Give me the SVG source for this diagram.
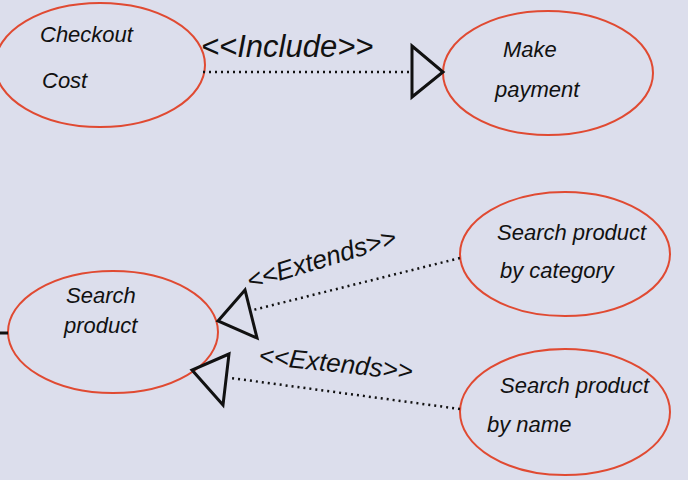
<svg xmlns="http://www.w3.org/2000/svg" width="688" height="480" viewBox="0 0 688 480">
<style>
.uc{fill:none;stroke:#e04a32;stroke-width:2}
.lbl{font-family:"Liberation Sans",Arial,sans-serif;font-style:italic;font-size:22px;fill:#111}
.st{font-family:"Liberation Sans",Arial,sans-serif;font-style:italic;font-size:26px;fill:#111}
.dot{fill:none;stroke:#111;stroke-width:2.5;stroke-dasharray:2 4}
.tri{fill:none;stroke:#111;stroke-width:3;stroke-linejoin:miter}
</style>
<rect width="688" height="480" fill="#dcdeec"/>
<g id="checkout-cost">
<ellipse class="uc" cx="100" cy="65" rx="105" ry="62"/>
<text class="lbl" x="40" y="42">Checkout</text>
<text class="lbl" x="42" y="88">Cost</text>
</g>
<g id="make-payment">
<ellipse class="uc" cx="548" cy="73" rx="105" ry="62"/>
<text class="lbl" x="503" y="57">Make</text>
<text class="lbl" x="495" y="97">payment</text>
</g>
<g id="search-product">
<ellipse class="uc" cx="113" cy="332" rx="105" ry="61"/>
<text class="lbl" x="66" y="303">Search</text>
<text class="lbl" x="64" y="333">product</text>
</g>
<g id="search-by-category">
<ellipse class="uc" cx="565" cy="254" rx="105" ry="62"/>
<text class="lbl" x="497" y="240">Search product</text>
<text class="lbl" x="500" y="278">by category</text>
</g>
<g id="search-by-name">
<ellipse class="uc" cx="565" cy="412" rx="105" ry="63"/>
<text class="lbl" x="500" y="393">Search product</text>
<text class="lbl" x="487" y="432">by name</text>
</g>
<g id="connectors">
<line x1="0" y1="333" x2="8" y2="333" stroke="#111" stroke-width="3"/>
<line class="dot" x1="203" y1="72" x2="410" y2="72"/>
<polygon class="tri" points="412,46 443,72 412,97"/>
<text class="st" x="201" y="57" style="font-size:31px">&lt;&lt;Include&gt;&gt;</text>
<line class="dot" x1="460" y1="258" x2="253" y2="310"/>
<polygon class="tri" points="245,290 218,321 257,338"/>
<text class="st" transform="translate(250,290) rotate(-17)">&lt;&lt;Extends&gt;&gt;</text>
<line class="dot" x1="460" y1="409" x2="231" y2="378"/>
<polygon class="tri" points="229,354 192,370 223,405"/>
<text class="st" transform="translate(258,364) rotate(6)">&lt;&lt;Extends&gt;&gt;</text>
</g>
</svg>
